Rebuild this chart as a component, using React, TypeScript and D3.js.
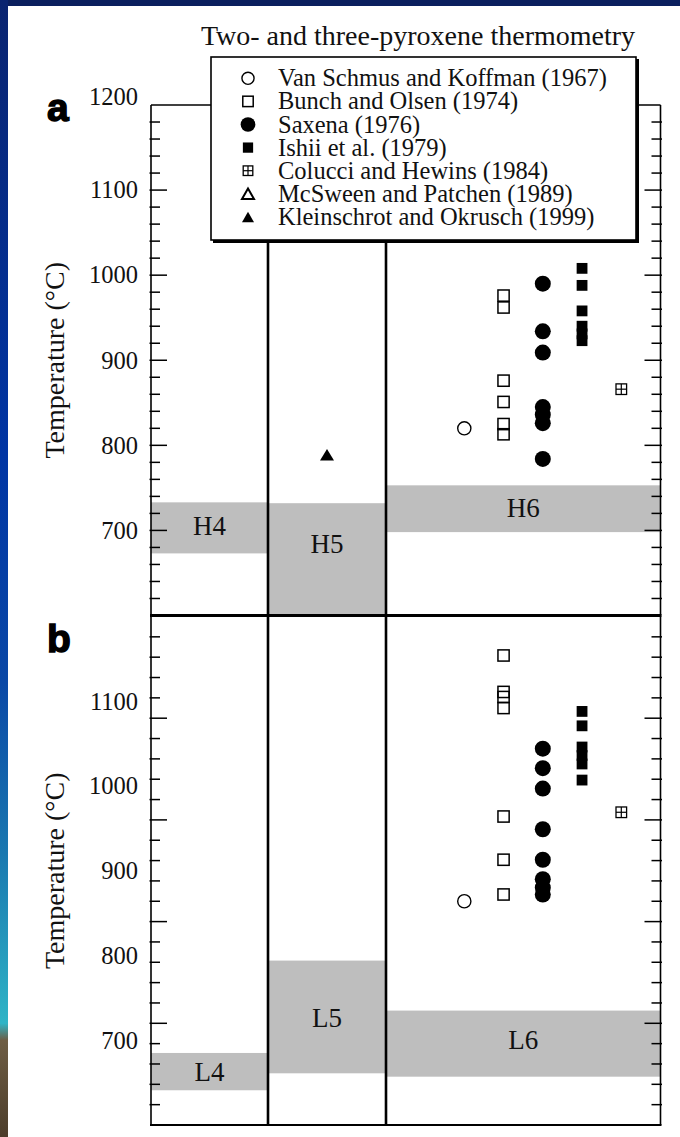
import React from "react";
import * as d3 from "d3";

const W = 680;
const H = 1137;

// ---------- data ----------
const studies = [
  "Van Schmus and Koffman (1967)",
  "Bunch and Olsen (1974)",
  "Saxena (1976)",
  "Ishii et al. (1979)",
  "Colucci and Hewins (1984)",
  "McSween and Patchen (1989)",
  "Kleinschrot and Okrusch (1999)",
];
const studySymbols = [
  "openCircle",
  "openSquare",
  "filledCircle",
  "filledSquare",
  "crossSquare",
  "openTriangle",
  "filledTriangle",
];
const type6Studies = studies.slice(0, 5);

// Panel a (H chondrites), type 6 temperatures by study (°C)
const vanSchmusH = [820];
const bunchH = [976, 962, 876, 851, 825, 813];
const saxenaH = [990, 934, 909, 845, 836, 826, 784];
const ishiiH = [1008, 988, 958, 940, 931, 923];
const colucciH = [866];
// Panel a, type 5
const kleinschrotH5 = [789];

// Panel b (L chondrites), type 6 temperatures by study (°C)
const vanSchmusL = [864];
const bunchL = [1154, 1111, 1105, 1092, 964, 913, 872];
const saxenaL = [1044, 1021, 997, 949, 913, 890, 880, 872];
const ishiiL = [1088, 1071, 1046, 1036, 1026, 1007];
const colucciL = [969];

// Metamorphic temperature ranges per petrologic type
const bandsH = [
  { label: "H4", lo: 673, hi: 733, at: 706 },
  { label: "H5", lo: 600, hi: 732, at: 684 },
  { label: "H6", lo: 698, hi: 753, at: 727 },
];
const bandsL = [
  { label: "L4", lo: 641, hi: 685, at: 663 },
  { label: "L5", lo: 661, hi: 794, at: 727 },
  { label: "L6", lo: 657, hi: 735, at: 701 },
];

const tickLabelsA = [700, 800, 900, 1000, 1100, 1200];
const tickLabelsB = [700, 800, 900, 1000, 1100];
const domainT = [600, 1200];
const minorStepA = 20;
const majorStepA = 100;
const minorStepB = 24;
const majorStepB = 120;

const titleText = "Two- and three-pyroxene thermometry";
const yTitle = "Temperature (\u00B0C)";

// ---------- layout ----------
const xLeft = 151;
const xRight = 660.5;
const colEdges = [151, 268, 386, 660.5];
const panelA = { top: 105, bottom: 615.5 };
const panelB = { top: 616.5, bottom: 1125 };

const yA = d3.scaleLinear().domain(domainT).range([panelA.bottom, panelA.top]);
const yB = d3.scaleLinear().domain(domainT).range([panelB.bottom, panelB.top]);
const xStudy = d3.scalePoint<string>().domain(type6Studies).range([464.3, 621.3]);
const colCenter = (i: number) => (colEdges[i] + colEdges[i + 1]) / 2;

const serif = "'Liberation Serif', 'Times New Roman', serif";

function Marker({ kind, x, y, legend }: { kind: string; x: number; y: number; legend?: boolean }) {
  const k = legend ? 0.92 : 1;
  switch (kind) {
    case "openCircle": {
      const r = 6.6 * k;
      return <circle cx={x} cy={y} r={r} fill="none" stroke="#000" strokeWidth={1.4} />;
    }
    case "openSquare": {
      const s = 11.2 * (legend ? 0.93 : 1);
      return <rect x={x - s / 2} y={y - s / 2} width={s} height={s} fill="none" stroke="#000" strokeWidth={1.5} />;
    }
    case "filledCircle": {
      const r = 8 * k;
      return <circle cx={x} cy={y} r={r} fill="#000" />;
    }
    case "filledSquare": {
      const s = 10.8 * (legend ? 0.95 : 1);
      return <rect x={x - s / 2} y={y - s / 2} width={s} height={s} fill="#000" />;
    }
    case "crossSquare": {
      const s = legend ? 9.6 : 10.6;
      return (
        <g>
          <rect x={x - s / 2} y={y - s / 2} width={s} height={s} fill="none" stroke="#000" strokeWidth={1.3} />
          <line x1={x} x2={x} y1={y - s / 2} y2={y + s / 2} stroke="#000" strokeWidth={1.2} />
          <line x1={x - s / 2} x2={x + s / 2} y1={y} y2={y} stroke="#000" strokeWidth={1.2} />
        </g>
      );
    }
    case "openTriangle":
    case "filledTriangle": {
      const w = legend ? 12 : 14;
      const h = legend ? 10.5 : 11.5;
      const d = `M${x},${y - h / 2}L${x + w / 2},${y + h / 2}L${x - w / 2},${y + h / 2}Z`;
      return kind === "openTriangle" ? (
        <path d={d} fill="none" stroke="#000" strokeWidth={2} strokeLinejoin="miter" />
      ) : (
        <path d={d} fill="#000" />
      );
    }
  }
  return null;
}

function Panel({
  y,
  bands,
  tickLabels,
  minorStep,
  majorStep,
  letter,
  letterY,
  series,
  type5,
  topLine,
  bottomWidth,
}: any) {
  const [top, bottom] = [y.range()[1], y.range()[0]];
  const ticks = d3.range(domainT[0] + minorStep, domainT[1] - 0.001, minorStep);
  const isMajor = (t: number) => {
    const q = (t - domainT[0]) / majorStep;
    return Math.abs(q - Math.round(q)) < 1e-6;
  };
  return (
    <g>
      {/* bands */}
      {bands.map((b: any, i: number) => (
        <g key={b.label}>
          <rect
            x={colEdges[i]}
            y={y(b.hi)}
            width={colEdges[i + 1] - colEdges[i]}
            height={y(b.lo) - y(b.hi)}
            fill="#bebebe"
          />
          <text
            x={colCenter(i)}
            y={y(b.at)}
            dy="0.35em"
            textAnchor="middle"
            fontFamily={serif}
            fontSize={27}
            fill="#111"
          >
            {b.label}
          </text>
        </g>
      ))}
      {/* ticks */}
      {ticks.map((t: number) => {
        const major = isMajor(t);
        const yy = y(t);
        return (
          <g key={t}>
            <line x1={xLeft - 1.5} x2={major ? xLeft + 16 : xLeft + 9} y1={yy} y2={yy} stroke="#000" strokeWidth={1.5} />
            <line x1={xRight + 1.5} x2={major ? xRight - 16 : xRight - 9} y1={yy} y2={yy} stroke="#000" strokeWidth={1.5} />
          </g>
        );
      })}
      {/* tick labels */}
      {tickLabels.map((t: number) => (
        <text
          key={t}
          x={138}
          y={y(t)}
          dy={t === domainT[1] ? "0em" : "0.34em"}
          textAnchor="end"
          fontFamily={serif}
          fontSize={24.5}
          fill="#111"
        >
          {t}
        </text>
      ))}
      {/* axis title */}
      <text
        transform={`translate(54.5,${(top + bottom) / 2}) rotate(-90)`}
        textAnchor="middle"
        dy="0.33em"
        fontFamily={serif}
        fontSize={28}
        fill="#111"
      >
        {yTitle}
      </text>
      {/* panel letter */}
      <text
        x={47}
        y={letterY}
        fontFamily="'Liberation Sans', Arial, sans-serif"
        fontWeight="bold"
        fontSize={39}
        fill="#000"
        stroke="#000"
        strokeWidth={1.4}
      >
        {letter}
      </text>
      {/* frame */}
      <line x1={xLeft} x2={xLeft} y1={top} y2={bottom} stroke="#000" strokeWidth={1.6} />
      <line x1={xRight} x2={xRight} y1={top} y2={bottom} stroke="#000" strokeWidth={1.6} />
      {topLine && <line x1={xLeft} x2={xRight} y1={top} y2={top} stroke="#000" strokeWidth={1.6} />}
      <line x1={xLeft - 1} x2={xRight + 1} y1={bottom} y2={bottom} stroke="#000" strokeWidth={bottomWidth} />
      {/* separators */}
      {[colEdges[1], colEdges[2]].map((x) => (
        <line key={x} x1={x} x2={x} y1={top} y2={bottom} stroke="#000" strokeWidth={2.6} />
      ))}
      {/* data */}
      {series.map((s: any) =>
        s.values.map((v: number, j: number) => (
          <Marker key={s.study + j} kind={studySymbols[studies.indexOf(s.study)]} x={xStudy(s.study) as number} y={y(v)} />
        ))
      )}
      {type5 &&
        type5.values.map((v: number, j: number) => (
          <Marker key={"t5" + j} kind={studySymbols[studies.indexOf(type5.study)]} x={colCenter(1)} y={y(v)} />
        ))}
    </g>
  );
}

export default function App() {
  const seriesH = [
    { study: studies[0], values: vanSchmusH },
    { study: studies[1], values: bunchH },
    { study: studies[2], values: saxenaH },
    { study: studies[3], values: ishiiH },
    { study: studies[4], values: colucciH },
  ];
  const seriesL = [
    { study: studies[0], values: vanSchmusL },
    { study: studies[1], values: bunchL },
    { study: studies[2], values: saxenaL },
    { study: studies[3], values: ishiiL },
    { study: studies[4], values: colucciL },
  ];
  const legend = { x: 211, y: 57, w: 425, h: 183, symX: 248, textX: 278, row0: 78.3, rowH: 23.1 };

  return (
    <svg
      width={W}
      height={H}
      viewBox={`0 0 ${W} ${H}`}
      style={{ position: "absolute", left: 0, top: 0, display: "block" }}
    >
      <defs>
        <linearGradient id="strip" x1="0" y1="0" x2="0" y2="1">
          <stop offset="0" stopColor="#0a2470" />
          <stop offset="0.4" stopColor="#0035a4" />
          <stop offset="0.6" stopColor="#0a48a6" />
          <stop offset="0.75" stopColor="#1a78b0" />
          <stop offset="0.9" stopColor="#2eb4c6" />
          <stop offset="0.915" stopColor="#6e5d44" />
          <stop offset="1" stopColor="#4c3d2b" />
        </linearGradient>
      </defs>
      <rect x={0} y={0} width={W} height={H} fill="#ffffff" />
      <rect x={0} y={0} width={W} height={6} fill="#0b1f5e" />
      <rect x={0} y={0} width={8} height={H} fill="url(#strip)" />

      {/* title */}
      <text x={418} y={45} textAnchor="middle" fontFamily={serif} fontSize={28} fill="#111">
        {titleText}
      </text>

      <Panel
        y={yA}
        bands={bandsH}
        tickLabels={tickLabelsA}
        minorStep={minorStepA}
        majorStep={majorStepA}
        letter="a"
        letterY={121}
        series={seriesH}
        type5={{ study: studies[6], values: kleinschrotH5 }}
        topLine={true}
        bottomWidth={3}
      />
      <Panel
        y={yB}
        bands={bandsL}
        tickLabels={tickLabelsB}
        minorStep={minorStepB}
        majorStep={majorStepB}
        letter="b"
        letterY={652}
        series={seriesL}
        type5={null}
        topLine={false}
        bottomWidth={2}
      />

      {/* legend */}
      <g>
        <line x1={legend.x + legend.w + 1.5} x2={legend.x + legend.w + 1.5} y1={legend.y + 2} y2={legend.y + legend.h + 3} stroke="#000" strokeWidth={3} />
        <line x1={legend.x + 2} x2={legend.x + legend.w + 3} y1={legend.y + legend.h + 1.5} y2={legend.y + legend.h + 1.5} stroke="#000" strokeWidth={3} />
        <rect x={legend.x} y={legend.y} width={legend.w} height={legend.h} fill="#fff" stroke="#000" strokeWidth={1.6} />
        {studies.map((s, i) => {
          const yy = legend.row0 + legend.rowH * i;
          return (
            <g key={s}>
              <Marker kind={studySymbols[i]} x={legend.symX} y={yy} legend />
              <text x={legend.textX} y={yy} dy="0.33em" fontFamily={serif} fontSize={24.5} fill="#111">
                {s}
              </text>
            </g>
          );
        })}
      </g>
    </svg>
  );
}
